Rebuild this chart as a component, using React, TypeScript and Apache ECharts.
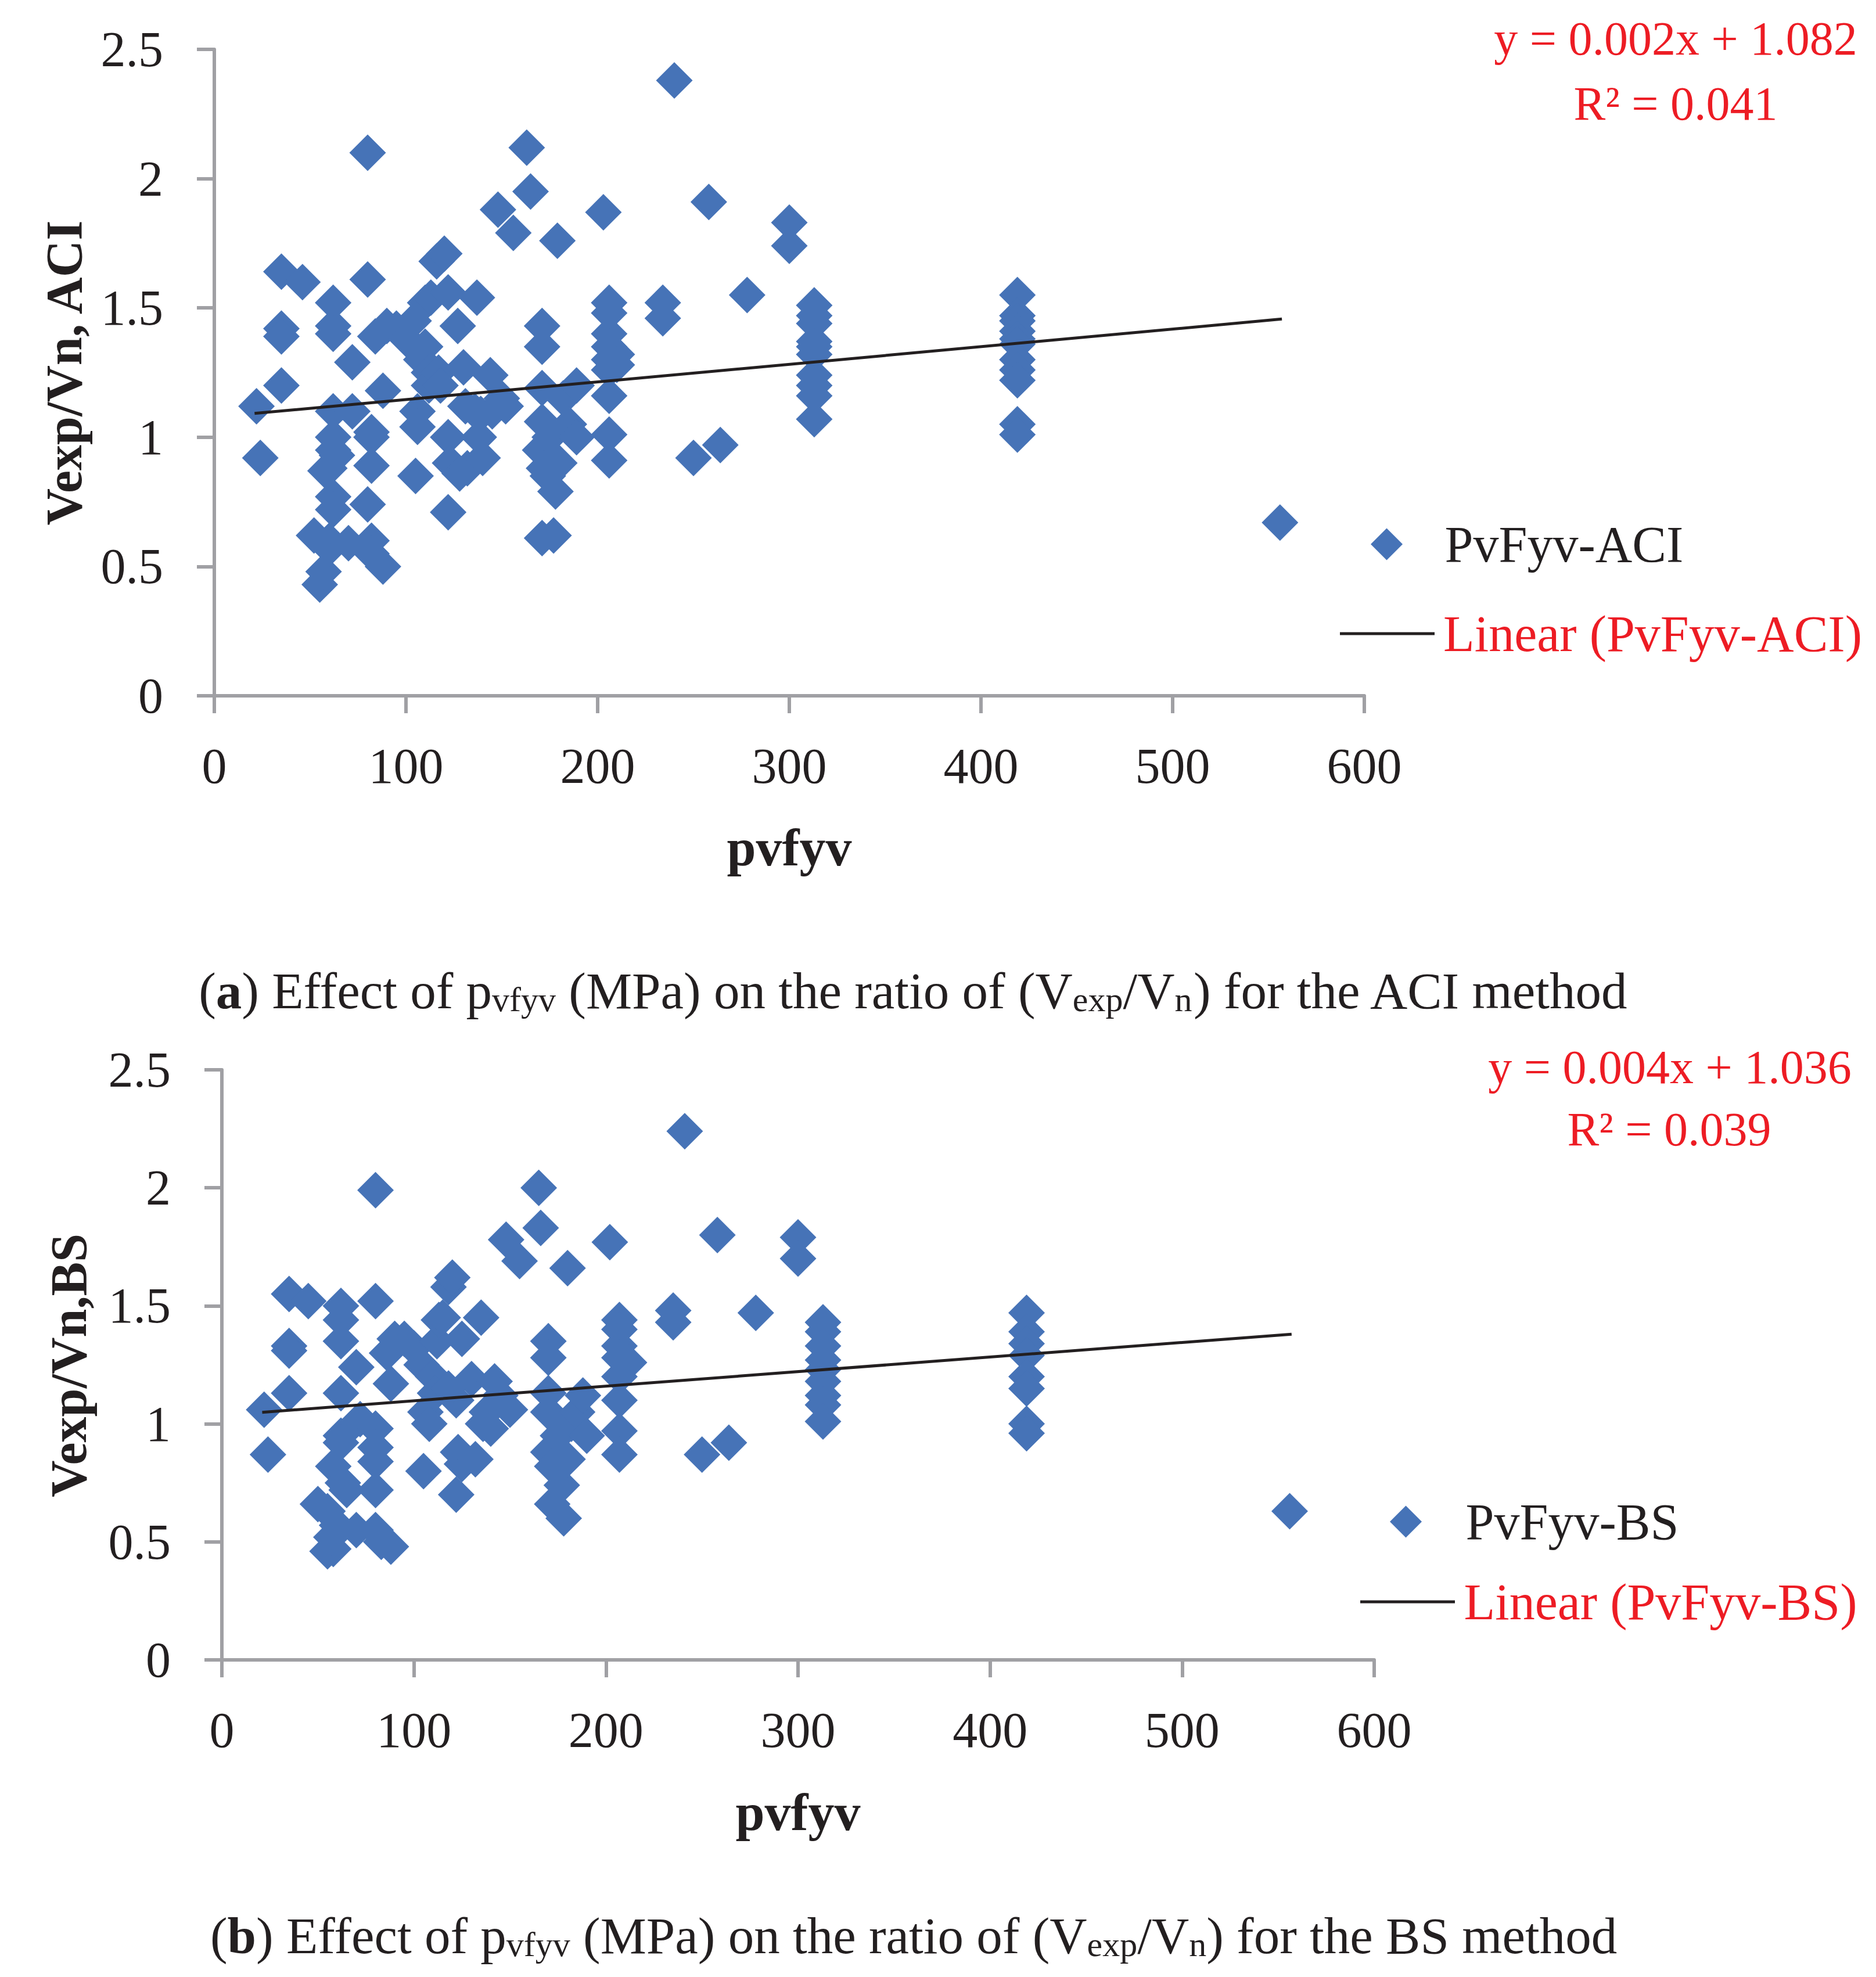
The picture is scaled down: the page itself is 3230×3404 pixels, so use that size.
import React, { useEffect, useRef } from "react";
import * as echarts from "echarts";

const FONT = '"Liberation Serif", "Times New Roman", serif';
const INK = "#231F20";
const RED = "#ED1C24";
const BLUE = "#4673B7";
const AXIS = "#A0A0A4";

const xTicks = [0, 100, 200, 300, 400, 500, 600];
const yTicks = [0, 0.5, 1, 1.5, 2, 2.5];

const aciName = "PvFyv-ACI";
const aciTrendName = "Linear (PvFyv-ACI)";
const bsName = "PvFyv-BS";
const bsTrendName = "Linear (PvFyv-BS)";

// (a) ACI method: pvfyv vs Vexp/Vn
const aciPoints: [number, number][] = [
  [22, 1.12], [24, 0.92],
  [35, 1.64], [35, 1.42], [35, 1.39], [35, 1.2],
  [46, 1.6],
  [52, 0.62], [55, 0.43], [57, 0.48], [58, 0.87], [60, 0.6], [60, 0.57],
  [62, 1.52], [62, 1.43], [62, 1.4], [62, 1.1], [62, 1.0], [62, 0.95], [62, 0.77], [62, 0.72], [64, 0.93], [60, 0.88],
  [72, 1.29], [72, 1.1], [70, 0.59],
  [80, 2.1], [80, 1.61], [82, 1.02], [82, 1.0], [82, 0.89], [80, 0.74], [82, 0.6], [82, 0.55],
  [84, 1.39], [88, 1.18], [88, 0.5], [90, 1.43],
  [95, 1.42], [100, 1.38], [104, 1.45], [105, 0.85], [106, 1.1], [106, 1.04], [108, 1.3], [110, 1.35], [110, 1.52], [112, 1.25], [112, 1.2],
  [113, 1.54], [116, 1.68], [117, 1.25], [118, 1.2], [120, 1.71], [122, 1.56], [122, 1.0], [122, 0.71], [123, 0.9], [127, 1.43], [128, 0.86],
  [130, 1.27], [131, 1.12], [132, 0.88], [137, 1.54], [136, 1.1], [139, 1.09], [138, 1.0], [140, 0.92], [144, 1.24], [145, 1.1], [148, 1.88], [150, 1.15], [152, 1.12], [156, 1.79],
  [163, 2.12], [165, 1.95], [171, 1.43], [171, 1.35], [171, 1.19], [171, 1.06], [170, 0.95], [172, 0.88], [171, 0.61], [175, 1.0], [174, 0.85], [178, 0.79], [177, 0.62], [179, 1.76], [180, 0.9], [182, 1.15], [185, 1.05], [189, 1.2], [189, 1.0],
  [203, 1.87], [206, 1.52], [206, 1.48], [206, 1.4], [206, 1.35], [206, 1.3], [206, 1.26], [206, 1.16], [206, 1.01], [206, 0.91], [210, 1.32], [210, 1.28],
  [234, 1.52], [234, 1.46],
  [240, 2.38],
  [250, 0.92], [264, 0.97],
  [258, 1.91],
  [278, 1.55],
  [300, 1.83], [300, 1.74],
  [313, 1.51], [313, 1.47], [313, 1.44], [313, 1.37], [313, 1.35], [313, 1.32], [313, 1.24], [313, 1.2], [313, 1.16], [313, 1.07],
  [419, 1.55], [419, 1.47], [419, 1.45], [419, 1.41], [419, 1.38], [419, 1.36], [419, 1.3], [419, 1.26], [419, 1.22], [419, 1.05], [419, 1.01],
  [556, 0.67],
];
const aciTrend: [number, number][] = [[21, 1.092], [557, 1.457]];

// (b) BS method: pvfyv vs Vexp/Vn
const bsPoints: [number, number][] = [
  [22, 1.06], [24, 0.87],
  [35, 1.55], [35, 1.33], [35, 1.31], [35, 1.13],
  [45, 1.52],
  [50, 0.66], [55, 0.46], [58, 0.47], [57, 0.52], [55, 0.63], [58, 0.82], [60, 0.57],
  [62, 1.5], [62, 1.44], [62, 1.35], [62, 1.13], [62, 0.95], [62, 0.92], [63, 0.75], [65, 0.72],
  [70, 1.24], [72, 1.02], [70, 0.55],
  [80, 1.99], [80, 1.52], [80, 0.98], [80, 0.9], [80, 0.84], [80, 0.72], [80, 0.55], [83, 0.5], [88, 0.48],
  [86, 1.3], [88, 1.17], [90, 1.36], [95, 1.36],
  [100, 1.32], [104, 1.25], [105, 0.8], [106, 1.05], [108, 1.0], [110, 1.2], [112, 1.35], [113, 1.44], [111, 1.13],
  [115, 1.45], [118, 1.58], [120, 1.62], [122, 1.1], [122, 0.7], [123, 0.88], [125, 1.36], [125, 0.83], [118, 1.15],
  [130, 1.19], [132, 0.85], [135, 1.45], [136, 1.0], [138, 1.05], [140, 0.98], [142, 1.18], [145, 1.12], [148, 1.78], [150, 1.06], [155, 1.69],
  [165, 2.0], [166, 1.83], [170, 1.35], [170, 1.28], [170, 1.13], [170, 1.05], [170, 0.88], [172, 0.82], [172, 0.66], [175, 0.95], [177, 0.74], [178, 0.6], [180, 1.66], [180, 0.85], [182, 1.0], [185, 1.05], [188, 1.12], [190, 0.95],
  [202, 1.77], [207, 1.44], [207, 1.4], [207, 1.33], [207, 1.28], [207, 1.2], [207, 1.1], [207, 0.97], [207, 0.87], [212, 1.26],
  [235, 1.48], [235, 1.43],
  [241, 2.24],
  [250, 0.87], [264, 0.92],
  [258, 1.8],
  [278, 1.47],
  [300, 1.79], [300, 1.7],
  [313, 1.43], [313, 1.39], [313, 1.33], [313, 1.27], [313, 1.23], [313, 1.18], [313, 1.12], [313, 1.08], [313, 1.01],
  [419, 1.47], [419, 1.39], [419, 1.34], [419, 1.29], [419, 1.2], [419, 1.15], [419, 1.0], [419, 0.96],
  [556, 0.63],
];
const bsTrend: [number, number][] = [[21, 1.049], [557, 1.38]];

const DIAMOND = "path://M0,-1L1,0L0,1L-1,0Z";

function axisCommon() {
  return {
    type: "value" as const,
    axisLine: { show: true, lineStyle: { color: AXIS, width: 6 } },
    axisTick: { show: true, inside: false, length: 30, lineStyle: { color: AXIS, width: 6 } },
    splitLine: { show: false },
    axisLabel: { fontSize: 86, fontFamily: FONT, color: INK },
  };
}

function xAxis(gridIndex: number) {
  const c = axisCommon();
  return {
    ...c,
    gridIndex,
    min: xTicks[0],
    max: xTicks[xTicks.length - 1],
    interval: xTicks[1] - xTicks[0],
    axisLabel: { ...c.axisLabel, margin: 78 },
  };
}

function yAxis(gridIndex: number) {
  const c = axisCommon();
  return {
    ...c,
    gridIndex,
    min: yTicks[0],
    max: yTicks[yTicks.length - 1],
    interval: yTicks[1] - yTicks[0],
    axisLabel: { ...c.axisLabel, margin: 88 },
  };
}

function scatterLegend(name: string, left: number, top: number, itemWidth: number) {
  return {
    data: [name],
    left,
    top,
    padding: 0,
    orient: "vertical",
    itemWidth,
    itemHeight: 55,
    icon: DIAMOND,
    selectedMode: false,
    itemStyle: { color: BLUE },
    textStyle: { fontSize: 88, fontFamily: FONT, color: INK, lineHeight: 55 },
  };
}

function lineLegend(name: string, left: number, top: number, itemWidth: number) {
  return {
    data: [name],
    left,
    top,
    padding: 0,
    orient: "vertical",
    itemWidth,
    itemHeight: 5,
    icon: "path://M0,0L163,0L163,5L0,5Z",
    selectedMode: false,
    itemStyle: { color: INK, borderWidth: 0 },
    textStyle: { fontSize: 88, fontFamily: FONT, color: RED, lineHeight: 5 },
  };
}

const subRich = {
  s: { fontSize: 60, fontFamily: FONT, fill: INK, verticalAlign: "bottom" },
  b: { fontSize: 89, fontFamily: FONT, fill: INK, fontWeight: "bold" },
};

function caption(letter: string, method: string, y: number) {
  return {
    type: "text",
    x: 1573,
    y,
    style: {
      text: `({b|${letter}}) Effect of p{s|vfyv} (MPa) on the ratio of (V{s|exp}/V{s|n}) for the ${method} method`,
      rich: subRich,
      fontSize: 89,
      fontFamily: FONT,
      fill: INK,
      align: "center",
      verticalAlign: "middle",
    },
  };
}

function plainText(text: string, x: number, y: number, size: number, color: string, bold = false, rotation = 0) {
  return {
    type: "text",
    x,
    y,
    rotation,
    style: {
      text,
      fontSize: size,
      fontFamily: FONT,
      fontWeight: bold ? "bold" : "normal",
      fill: color,
      align: "center",
      verticalAlign: "middle",
    },
  };
}

export default function App() {
  const ref = useRef<HTMLDivElement>(null);
  useEffect(() => {
    if (!ref.current) return;
    const chart = echarts.init(ref.current, undefined, { renderer: "svg" });
    chart.setOption({
      animation: false,
      backgroundColor: "#ffffff",
      grid: [
        { left: 369, top: 85, width: 1980, height: 1113 },
        { left: 382, top: 1842, width: 1984, height: 1016 },
      ],
      xAxis: [xAxis(0), xAxis(1)],
      yAxis: [yAxis(0), yAxis(1)],
      legend: [
        scatterLegend(aciName, 2360, 893, 190),
        lineLegend(aciTrendName, 2307, 1047, 183),
        scatterLegend(bsName, 2393, 2576, 196),
        lineLegend(bsTrendName, 2342, 2714, 184),
      ],
      series: [
        {
          name: aciName,
          type: "scatter",
          xAxisIndex: 0,
          yAxisIndex: 0,
          symbol: "diamond",
          symbolSize: 63,
          itemStyle: { color: BLUE, opacity: 1 },
          z: 2,
          data: aciPoints,
        },
        {
          name: aciTrendName,
          type: "line",
          xAxisIndex: 0,
          yAxisIndex: 0,
          symbol: "none",
          lineStyle: { color: INK, width: 5 },
          itemStyle: { color: INK },
          z: 3,
          data: aciTrend,
        },
        {
          name: bsName,
          type: "scatter",
          xAxisIndex: 1,
          yAxisIndex: 1,
          symbol: "diamond",
          symbolSize: 63,
          itemStyle: { color: BLUE, opacity: 1 },
          z: 2,
          data: bsPoints,
        },
        {
          name: bsTrendName,
          type: "line",
          xAxisIndex: 1,
          yAxisIndex: 1,
          symbol: "none",
          lineStyle: { color: INK, width: 5 },
          itemStyle: { color: INK },
          z: 3,
          data: bsTrend,
        },
      ],
      graphic: [
        plainText("y = 0.002x + 1.082", 2885, 66, 82, RED),
        plainText("R² = 0.041", 2885, 178, 82, RED),
        plainText("y = 0.004x + 1.036", 2875, 1837, 82, RED),
        plainText("R² = 0.039", 2874, 1944, 82, RED),
        plainText("pvfyv", 1359, 1459, 90, INK, true),
        plainText("pvfyv", 1374, 3120, 90, INK, true),
        plainText("Vexp/Vn, ACI", 110, 642, 88, INK, true, Math.PI / 2),
        plainText("Vexp/Vn,BS", 118, 2351, 88, INK, true, Math.PI / 2),
        caption("a", "ACI", 1706),
        caption("b", "BS", 3333),
      ],
    });
    return () => chart.dispose();
  }, []);
  return (
    <div
      ref={ref}
      style={{ position: "absolute", left: 0, top: 0, width: 3230, height: 3404, background: "#fff" }}
    />
  );
}
